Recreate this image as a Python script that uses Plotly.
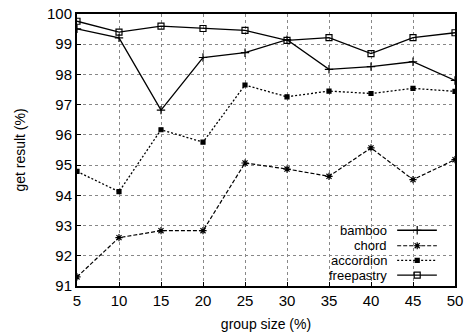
import plotly.graph_objects as go

group_size = [5, 10, 15, 20, 25, 30, 35, 40, 45, 50]
bamboo = [99.51, 99.21, 96.82, 98.56, 98.72, 99.15, 98.17, 98.26, 98.42, 97.80]
chord = [91.30, 92.60, 92.83, 92.83, 95.07, 94.87, 94.63, 95.57, 94.52, 95.18]
accordion = [94.79, 94.12, 96.17, 95.76, 97.65, 97.26, 97.45, 97.37, 97.54, 97.44]
freepastry = [99.76, 99.40, 99.60, 99.52, 99.46, 99.13, 99.22, 98.69, 99.22, 99.38]
series_names = ["bamboo", "chord", "accordion", "freepastry"]
x_ticks = [5, 10, 15, 20, 25, 30, 35, 40, 45, 50]
y_ticks = [91, 92, 93, 94, 95, 96, 97, 98, 99, 100]

styles = {
    "bamboo": dict(dash="solid", symbol="cross-thin-open", size=6, width=1.3),
    "chord": dict(dash="4px,2px", symbol="asterisk-open", size=6, width=1.2),
    "accordion": dict(dash="2px,2px", symbol="square", size=4, width=1.3),
    "freepastry": dict(dash="solid", symbol="square-open", size=6, width=1.3),
}
data = {"bamboo": bamboo, "chord": chord, "accordion": accordion, "freepastry": freepastry}

fig = go.Figure()
for name in series_names:
    s = styles[name]
    fig.add_trace(go.Scatter(
        x=group_size, y=data[name], mode="lines+markers", name=name,
        line=dict(color="black", dash=s["dash"], width=s["width"]),
        marker=dict(symbol=s["symbol"], size=s["size"], color="black",
                    line=dict(color="black", width=1.2)),
        showlegend=False,
    ))

# custom legend (labels right-aligned, samples on right), in overlay axes 0..1
leg_y = [0.205, 0.148, 0.094, 0.040]
for name, yy in zip(series_names, leg_y):
    s = styles[name]
    fig.add_trace(go.Scatter(
        x=[0.847, 0.9, 0.952], y=[yy, yy, yy], xaxis="x2", yaxis="y2",
        mode="lines", line=dict(color="black", dash=s["dash"], width=s["width"]),
        showlegend=False, hoverinfo="skip"))
    fig.add_trace(go.Scatter(
        x=[0.9], y=[yy], xaxis="x2", yaxis="y2", mode="markers",
        marker=dict(symbol=s["symbol"], size=s["size"], color="black",
                    line=dict(color="black", width=1.2)),
        showlegend=False, hoverinfo="skip"))
    fig.add_annotation(x=0.823, y=yy, xref="x2", yref="y2", text=name,
                       showarrow=False, xanchor="right", yanchor="middle",
                       font=dict(size=13, color="black"), borderpad=0)

fig.update_layout(
    width=466, height=332,
    margin=dict(l=77, r=11, t=14, b=46, autoexpand=False),
    paper_bgcolor="white", plot_bgcolor="white",
    font=dict(family="Liberation Sans, Arial, sans-serif", color="black"),
    xaxis=dict(range=[5, 50], tickvals=x_ticks, tickfont=dict(size=15),
               showgrid=True, gridcolor="#888", griddash="dot", gridwidth=1,
               showline=True, linecolor="black", linewidth=2, mirror=True,
               ticks="inside", ticklen=4, tickcolor="black", zeroline=False,
               automargin=False,
               title=dict(text="group size (%)", font=dict(size=14), standoff=13)),
    yaxis=dict(range=[91, 100], tickvals=y_ticks, tickfont=dict(size=15),
               showgrid=True, gridcolor="#888", griddash="dot", gridwidth=1,
               showline=True, linecolor="black", linewidth=2, mirror=True,
               ticks="inside", ticklen=4, tickcolor="black", zeroline=False,
               automargin=False,
               title=dict(text="get result (%)", font=dict(size=14), standoff=18)),
    xaxis2=dict(range=[0, 1], overlaying="x", visible=False, fixedrange=True),
    yaxis2=dict(range=[0, 1], overlaying="y", visible=False, fixedrange=True),
)

fig.write_html("out.html")
